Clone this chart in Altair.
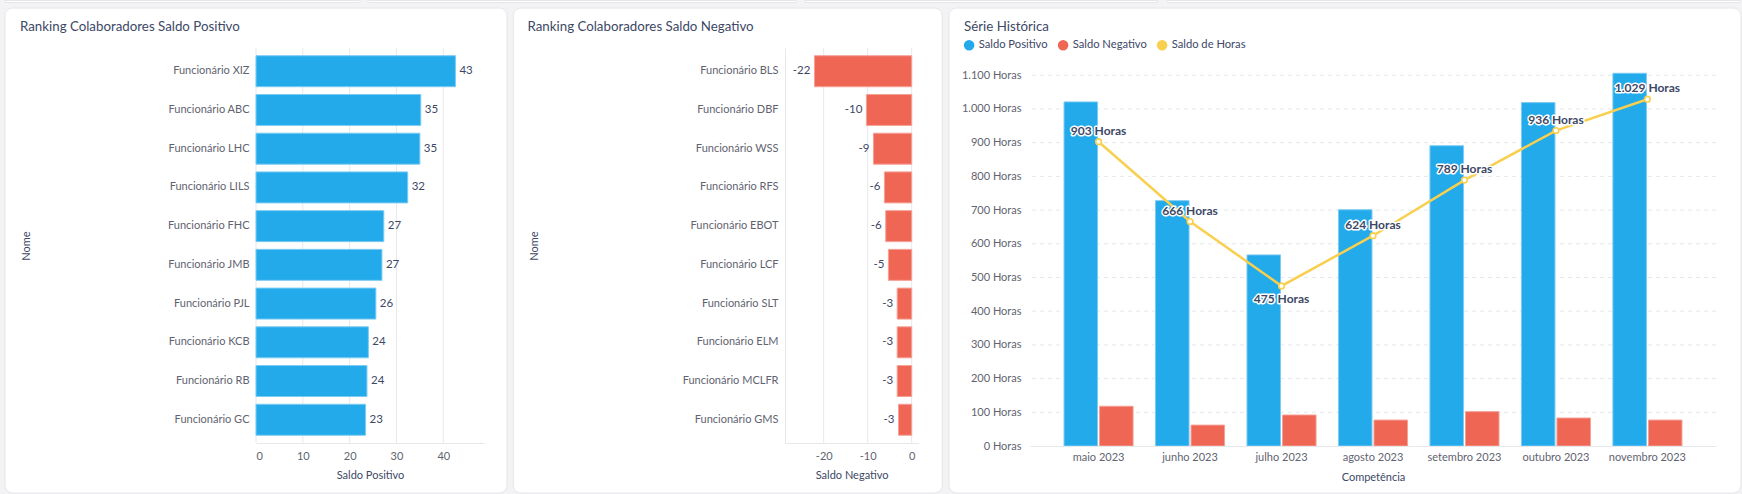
import altair as alt
import pandas as pd

# ---------------------------------------------------------------- style
FONT = "Lato"
INK = "#3d4866"
LABEL = "#5f6470"
LINE = "#e6e8ec"
PAGE = "#f3f3f5"
CARD_EDGE = "#e6e6ea"
BLUE, BLUE_EDGE = "#22aaeb", "#7ccbf2"
RED, RED_EDGE = "#ef6655", "#f5a196"
YELLOW = "#f8cf4e"
TXT = 11

# ---------------------------------------------------------------- data
positive_names = [
    "Funcionário XIZ", "Funcionário ABC", "Funcionário LHC", "Funcionário LILS",
    "Funcionário FHC", "Funcionário JMB", "Funcionário PJL", "Funcionário KCB",
    "Funcionário RB", "Funcionário GC",
]
positive_values = [42.6, 35.2, 35.0, 32.4, 27.3, 26.9, 25.6, 24.0, 23.7, 23.4]
positive_ticks = [0, 10, 20, 30, 40]

negative_names = [
    "Funcionário BLS", "Funcionário DBF", "Funcionário WSS", "Funcionário RFS",
    "Funcionário EBOT", "Funcionário LCF", "Funcionário SLT", "Funcionário ELM",
    "Funcionário MCLFR", "Funcionário GMS",
]
negative_values = [-22.1, -10.3, -8.7, -6.2, -5.9, -5.3, -3.3, -3.3, -3.3, -3.0]
negative_ticks = [-20, -10, 0]

months = ["maio 2023", "junho 2023", "julho 2023", "agosto 2023",
          "setembro 2023", "outubro 2023", "novembro 2023"]
saldo_positivo = [1021, 728, 567, 701, 891, 1019, 1106]
saldo_negativo = [118, 62, 92, 77, 102, 83, 77]
saldo_horas = [903, 666, 475, 624, 789, 936, 1029]
hour_ticks = [0, 100, 200, 300, 400, 500, 600, 700, 800, 900, 1000, 1100]
series_names = ["Saldo Positivo", "Saldo Negativo", "Saldo de Horas"]

# ---------------------------------------------------------------- layout
P1_W, P1_H = 228, 395
P2_W, P2_H = 133.3, 395
P3_W, P3_H = 686, 398
GAP = 111
SPACER_W = 78.7
ONE = pd.DataFrame({"k": [0]})


def box(x0, x1, y0, y1, **style):
    """Decorative rectangle placed in pixel space of a panel."""
    return alt.Chart(ONE).mark_rect(**style).encode(
        x=alt.value(x0), x2=alt.value(x1), y=alt.value(y0), y2=alt.value(y1)
    )


def card(x0, x1, y0, y1):
    return box(x0, x1, y0, y1, fill="white", stroke=CARD_EDGE, strokeWidth=1, cornerRadius=8)


def panel_title(text, dx, offset):
    return alt.TitleParams(
        text=text, anchor="start", frame="group", dx=dx, offset=offset,
        baseline="middle", font=FONT, fontSize=13.3, fontWeight="normal", color=INK,
    )


AXIS_TEXT = dict(
    labelFont=FONT, labelFontSize=TXT, labelColor=LABEL,
    titleFont=FONT, titleFontSize=TXT, titleFontWeight="normal", titleColor=INK,
    ticks=False, tickSize=0, grid=False, zindex=1, labelOverlap=False,
)


def ranking_panel(names, values, ticks, domain, color, edge, x_title, title, name_x,
                  label_side, y_domain, backdrop):
    df = pd.DataFrame({"nome": names, "valor": values})
    xscale = alt.Scale(domain=domain, nice=False, zero=False)
    xaxis = alt.Axis(
        values=ticks, title=x_title, labelExpr="'' + datum.value",
        labelBaseline="middle", labelPadding=13.5, titlePadding=0,
        titleY=32, titleBaseline="middle",
        domain=True, domainColor=LINE, **AXIS_TEXT,
    )
    grid = alt.Chart(pd.DataFrame({"t": ticks})).mark_rule(color=LINE, strokeWidth=1).encode(
        x=alt.X("t:Q", scale=xscale, axis=xaxis, title=x_title)
    )
    base = alt.Chart(df).encode(
        y=alt.Y(
            "nome:N", sort=None,
            scale=alt.Scale(paddingInner=0.2, paddingOuter=0.2),
            axis=alt.Axis(
                title="Nome", titleX=name_x, titleY=P1_H / 2, titleBaseline="middle",
                labelPadding=7, labelLimit=0, domain=y_domain, domainColor=LINE,
                **AXIS_TEXT,
            ),
        ),
        x=alt.X("valor:Q", scale=xscale, axis=xaxis, title=x_title),
    )
    bars = base.mark_bar(color=color, stroke=edge, strokeWidth=1)
    if label_side == "right":
        text = base.mark_text(align="left", dx=4, baseline="middle",
                              font=FONT, fontSize=TXT + 0.5, color=INK)
    else:
        text = base.mark_text(align="right", dx=-4, baseline="middle",
                              font=FONT, fontSize=TXT + 0.5, color=INK)
    text = text.transform_calculate(rotulo="'' + round(datum.valor)").encode(text="rotulo:N")
    return alt.layer(*backdrop, grid, bars, text).properties(
        width=P1_W if label_side == "right" else P2_W, height=P1_H, title=title
    )


# ---------------------------------------------------------------- panel 1
# page background and the edges of the cards in the row above
page = box(-256, 1486, -48, 446, fill=PAGE)
strips = [
    box(x0 - 256, x1 - 256, -47.5, -45.5, fill="white", stroke=CARD_EDGE, strokeWidth=1,
        cornerRadiusBottomLeft=3, cornerRadiusBottomRight=3)
    for x0, x1 in [(5, 360), (368, 796), (805, 1158), (1167, 1740)]
]
panel1 = ranking_panel(
    positive_names, positive_values, positive_ticks, [0, 48.7], BLUE, BLUE_EDGE,
    "Saldo Positivo", panel_title("Ranking Colaboradores Saldo Positivo", -236, -40),
    -229.5, "right", False, [page, *strips, card(-251, 251, -40, 445)],
)

# ---------------------------------------------------------------- spacer
spacer = alt.Chart(ONE).mark_point(opacity=0).encode(
    x=alt.value(0), y=alt.value(0)
).properties(width=SPACER_W, height=P1_H)

# ---------------------------------------------------------------- panel 2
panel2 = ranking_panel(
    negative_names, negative_values, negative_ticks, [-28.8, 1.5], RED, RED_EDGE,
    "Saldo Negativo", panel_title("Ranking Colaboradores Saldo Negativo", -257.5, -32.5),
    -250.7, "left", True, [card(-271.7, 157.3, -40, 445)],
)

# ---------------------------------------------------------------- panel 3
bars_df = pd.DataFrame({
    "mes": months * 2,
    "serie": [series_names[0]] * len(months) + [series_names[1]] * len(months),
    "valor": saldo_positivo + saldo_negativo,
})
n = len(saldo_horas)
line_df = pd.DataFrame({
    "mes": months,
    "valor": saldo_horas,
    "abaixo": [0 < i < n - 1 and v < saldo_horas[i - 1] and v < saldo_horas[i + 1]
               for i, v in enumerate(saldo_horas)],
})

xscale3 = alt.Scale(domain=months, paddingInner=0.245, paddingOuter=0.372)
yscale3 = alt.Scale(domain=[0, 1181], nice=False)
xaxis3 = alt.Axis(
    title="Competência", labelAngle=0, labelBaseline="middle", labelPadding=11.7,
    titleY=31, titleBaseline="middle", domain=True, domainColor=LINE,
    **AXIS_TEXT,
)
yaxis3 = alt.Axis(
    values=hour_ticks, title=None, domain=False, labelPadding=9,
    labelExpr="replace(format(datum.value, ','), ',', '.') + ' Horas'",
    **AXIS_TEXT,
)

grid3 = alt.Chart(pd.DataFrame({"t": hour_ticks[1:]})).mark_rule(
    color=LINE, strokeWidth=1, strokeDash=[4, 4]
).encode(y=alt.Y("t:Q", scale=yscale3, axis=yaxis3, title=None))

bars3 = alt.Chart(bars_df).mark_bar(strokeWidth=1).encode(
    x=alt.X("mes:N", sort=months, scale=xscale3, axis=xaxis3, title="Competência"),
    xOffset=alt.XOffset("serie:N", scale=alt.Scale(domain=series_names[:2], paddingInner=0.056)),
    y=alt.Y("valor:Q", scale=yscale3, axis=yaxis3, title=None),
    color=alt.Color(
        "serie:N",
        scale=alt.Scale(domain=series_names, range=[BLUE, RED, YELLOW]),
        legend=alt.Legend(
            title=None, orient="none", legendX=-66.5, legendY=-8.5, direction="horizontal",
            symbolType="circle", symbolSize=110, symbolStrokeWidth=0, symbolOpacity=1,
            labelFont=FONT, labelFontSize=TXT + 0.2, labelColor=INK,
            columnPadding=9, labelOffset=4, padding=0,
        ),
    ),
    stroke=alt.Stroke(
        "serie:N", scale=alt.Scale(domain=series_names[:2], range=[BLUE_EDGE, RED_EDGE]),
        legend=None,
    ),
)

line_base = alt.Chart(line_df).encode(
    x=alt.X("mes:N", sort=months, scale=xscale3, axis=xaxis3, title="Competência"),
    y=alt.Y("valor:Q", scale=yscale3, axis=yaxis3, title=None),
)
line = line_base.mark_line(color=YELLOW, strokeWidth=2.5)
points = line_base.mark_point(filled=True, fill="white", stroke=YELLOW, strokeWidth=1.6,
                              size=32, opacity=1)

hour_text = line_base.transform_calculate(
    rotulo="replace(format(datum.valor, ','), ',', '.') + ' Horas'"
)
labels = []
for flag, dy in [(False, -11), (True, 13)]:
    sel = hour_text.transform_filter(alt.datum.abaixo == flag)
    common = dict(align="center", baseline="middle", dy=dy, font=FONT, fontSize=12,
                  fontWeight="bold")
    labels.append(sel.mark_text(stroke="white", strokeWidth=3, strokeJoin="round",
                                fill="white", **common).encode(text="rotulo:N"))
    labels.append(sel.mark_text(fill=INK, **common).encode(text="rotulo:N"))

panel3 = alt.layer(
    card(-81, 711, -40, 445), grid3, bars3, line, points, *labels
).properties(
    width=P3_W, height=P3_H, title=panel_title("Série Histórica", -66, -32.5)
)

chart = alt.hconcat(
    panel1, spacer, panel2, panel3, spacing=GAP, bounds="flush"
).resolve_legend(
    color="independent", stroke="independent"
).properties(
    padding=0, background=PAGE
).configure(font=FONT).configure_view(stroke=None)

chart.save("out.html", embed_options={"renderer": "svg", "actions": False})
